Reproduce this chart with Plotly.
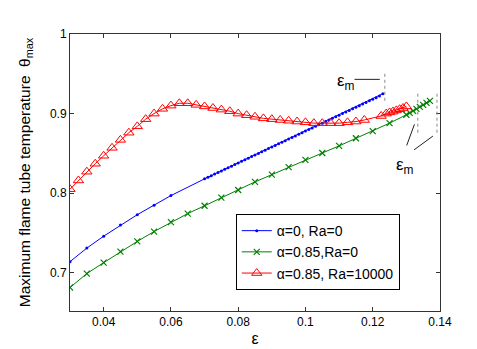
import plotly.graph_objects as go

# ---- data ----
blue_x = [0.030, 0.035, 0.040, 0.045, 0.050, 0.055, 0.060,
          0.070, 0.071, 0.072, 0.073, 0.074, 0.075, 0.076, 0.077, 0.078, 0.079,
          0.080, 0.081, 0.082, 0.083, 0.084, 0.085, 0.086, 0.087, 0.088, 0.089,
          0.090, 0.091, 0.092, 0.093, 0.094, 0.095, 0.096, 0.097, 0.098, 0.099,
          0.100, 0.101, 0.102, 0.103, 0.104, 0.105, 0.106, 0.107, 0.108, 0.109,
          0.110, 0.111, 0.112, 0.113, 0.114, 0.115, 0.116, 0.117, 0.118, 0.119,
          0.120, 0.121, 0.122, 0.123]
blue_y = [0.714, 0.731, 0.746, 0.760, 0.773, 0.785, 0.797,
          0.818, 0.820, 0.822, 0.824, 0.826, 0.828, 0.830, 0.832, 0.834, 0.836,
          0.838, 0.840, 0.842, 0.844, 0.846, 0.848, 0.850, 0.852, 0.854, 0.856,
          0.858, 0.860, 0.862, 0.864, 0.866, 0.868, 0.870, 0.872, 0.874, 0.876,
          0.878, 0.880, 0.882, 0.884, 0.886, 0.888, 0.890, 0.892, 0.894, 0.896,
          0.898, 0.900, 0.902, 0.904, 0.906, 0.908, 0.910, 0.912, 0.914, 0.916,
          0.918, 0.920, 0.922, 0.925]

green_x = [0.030, 0.035, 0.040, 0.045, 0.050, 0.055, 0.060, 0.065, 0.070, 0.075,
           0.080, 0.085, 0.090, 0.095, 0.100, 0.105, 0.110, 0.115, 0.120, 0.125,
           0.130, 0.131, 0.132, 0.133, 0.134, 0.135, 0.136, 0.137]
green_y = [0.6815, 0.699, 0.7127, 0.7266, 0.7394, 0.7518, 0.7636, 0.7744, 0.7842, 0.7945,
           0.804, 0.8142, 0.8233, 0.8327, 0.8418, 0.8505, 0.8594, 0.869, 0.878, 0.888,
           0.8985, 0.901, 0.9035, 0.906, 0.9085, 0.911, 0.9135, 0.916]

red_x = [0.0300, 0.0325, 0.0350, 0.0375, 0.0400, 0.0425, 0.0450, 0.0475, 0.0500, 0.0525,
         0.0550, 0.0575, 0.0600, 0.0625, 0.0650, 0.0675, 0.0700, 0.0725, 0.0750, 0.0775,
         0.0800, 0.0825, 0.0850, 0.0875, 0.0900, 0.0925, 0.0950, 0.0975, 0.1000, 0.1025,
         0.1050, 0.1075, 0.1100, 0.1125, 0.1150, 0.1175,
         0.1225, 0.124, 0.125, 0.126, 0.127, 0.128, 0.129, 0.130]
red_y = [0.805, 0.816, 0.827, 0.837, 0.847, 0.857, 0.867, 0.876, 0.884, 0.893,
         0.900, 0.906, 0.910, 0.913, 0.913, 0.911, 0.909, 0.907, 0.905, 0.903,
         0.900, 0.898, 0.896, 0.894, 0.893, 0.892, 0.891, 0.890, 0.889, 0.888,
         0.888, 0.888, 0.888, 0.889, 0.890, 0.892,
         0.897, 0.900, 0.9015, 0.9025, 0.904, 0.9055, 0.907, 0.909]

x_ticks = [0.04, 0.06, 0.08, 0.10, 0.12, 0.14]
x_tick_labels = ["0.04", "0.06", "0.08", "0.1", "0.12", "0.14"]
y_ticks = [0.7, 0.8, 0.9, 1.0]
y_tick_labels = ["0.7", "0.8", "0.9", "1"]

names = ["α=0, Ra=0", "α=0.85,Ra=0", "α=0.85, Ra=10000"]

FONT = "Liberation Sans, Arial, sans-serif"

fig = go.Figure()
fig.add_trace(go.Scatter(x=blue_x, y=blue_y, mode="lines+markers", name=names[0],
                         line=dict(color="rgb(0,0,255)", width=1),
                         marker=dict(symbol="circle", size=3, color="rgb(0,0,255)")))
fig.add_trace(go.Scatter(x=green_x, y=green_y, mode="lines+markers", name=names[1],
                         line=dict(color="rgb(0,128,0)", width=1),
                         marker=dict(symbol="x-thin-open", size=6,
                                     line=dict(color="rgb(0,128,0)", width=1.2),
                                     color="rgb(0,128,0)")))
fig.add_trace(go.Scatter(x=red_x, y=red_y, mode="lines+markers", name=names[2],
                         line=dict(color="rgb(255,0,0)", width=1),
                         marker=dict(symbol="triangle-up-open", size=9,
                                     color="rgb(255,0,0)",
                                     line=dict(color="rgb(255,0,0)", width=1))))

dot = dict(color="#888", width=1, dash="dot")
solid = dict(color="#222", width=1)
shapes = [
    dict(type="line", xref="x", yref="y", x0=0.1236, x1=0.1236, y0=0.950, y1=0.913, line=dot),
    dict(type="line", xref="x", yref="y", x0=0.1334, x1=0.1334, y0=0.925, y1=0.876, line=dot),
    dict(type="line", xref="x", yref="y", x0=0.1391, x1=0.1391, y0=0.925, y1=0.874, line=dot),
    dict(type="line", xref="x", yref="y", x0=0.1146, x1=0.1221, y0=0.943, y1=0.943, line=solid),
    dict(type="line", xref="x", yref="y", x0=0.1301, x1=0.1324, y0=0.860, y1=0.8865, line=solid),
    dict(type="line", xref="x", yref="y", x0=0.1323, x1=0.1379, y0=0.8545, y1=0.8718, line=solid),
]

annotations = [
    dict(x=0.1122, y=0.940, xref="x", yref="y", text="ε<sub>m</sub>", showarrow=False,
         font=dict(family=FONT, size=17, color="black")),
    dict(x=0.1297, y=0.834, xref="x", yref="y", text="ε<sub>m</sub>", showarrow=False,
         font=dict(family=FONT, size=17, color="black")),
]

axis_common = dict(showline=True, linecolor="#333", linewidth=1, mirror="ticks",
                   ticks="inside", ticklen=4, tickcolor="#333", showgrid=False,
                   zeroline=False, tickfont=dict(family=FONT, size=12, color="black"))

fig.update_layout(
    width=477, height=349,
    margin=dict(l=62, r=45, t=26, b=41),
    paper_bgcolor="white", plot_bgcolor="white",
    font=dict(family=FONT, size=12, color="black"),
    showlegend=True,
    legend=dict(x=0.448, y=0.35, xanchor="left", yanchor="top",
                bgcolor="white", bordercolor="black", borderwidth=1,
                font=dict(family=FONT, size=14, color="black"),
                tracegroupgap=0, itemwidth=30),
    xaxis=dict(range=[0.03, 0.14], tickvals=x_ticks, ticktext=x_tick_labels,
               title=dict(text="ε", font=dict(family=FONT, size=16), standoff=4),
               **axis_common),
    yaxis=dict(range=[0.652, 1.0], tickvals=y_ticks, ticktext=y_tick_labels,
               title=dict(text="Maximum flame tube temperature  θ<sub>max</sub>",
                          font=dict(family=FONT, size=15.5), standoff=15),
               **axis_common),
    shapes=shapes, annotations=annotations,
)

fig.write_html("out.html")
